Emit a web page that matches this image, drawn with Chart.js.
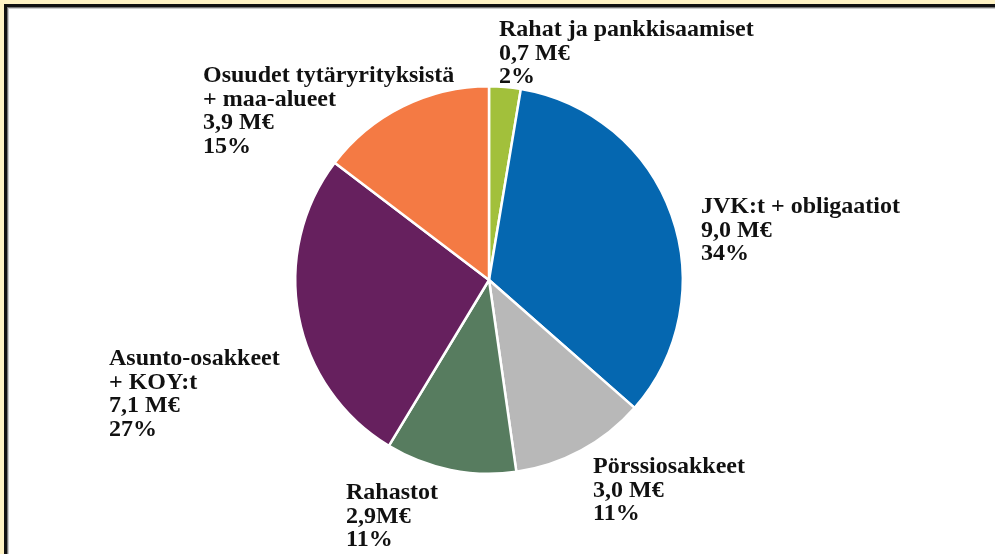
<!DOCTYPE html>
<html lang="fi">
<head>
  <meta charset="UTF-8" />
  <title>Sijoitusvarallisuus</title>
  <script src="https://cdn.jsdelivr.net/npm/chart.js"></script>
  <style>
    html, body { margin: 0; padding: 0; background: #fff3c4; width: 995px; height: 554px; overflow: hidden; position: relative; }
    #frame {
      position: absolute; left: 4px; top: 4px; width: 1100px; height: 700px;
      background: #fff;
      border-top: 3px solid #111; border-left: 3px solid #111;
      box-shadow: inset 1px 1px 0 #777, inset 2px 2px 0 #ccc;
    }
    #wrap { position: absolute; left: 0; top: 0; width: 995px; height: 554px; }
  </style>
</head>
<body>
  <div id="frame"></div>
  <div id="wrap"><canvas id="pie"></canvas></div>

  <script>
    // slices clockwise from 12 o'clock
    const names = [
      ['Rahat ja pankkisaamiset'],
      ['JVK:t + obligaatiot'],
      ['Pörssiosakkeet'],
      ['Rahastot'],
      ['Asunto-osakkeet', '+ KOY:t'],
      ['Osuudet tytäryrityksistä', '+ maa-alueet']
    ];
    const values = [0.7, 9.0, 3.0, 2.9, 7.1, 3.9];          // M€
    const amountLabels = ['0,7 M€', '9,0 M€', '3,0 M€', '2,9M€', '7,1 M€', '3,9 M€'];
    const percentLabels = ['2%', '34%', '11%', '11%', '27%', '15%'];
    const colors = ['#a2c03b', '#0567b0', '#b8b8b8', '#577c5f', '#66205e', '#f47a44'];

    // where each text block starts (left x, first baseline y)
    const labelPos = [[499, 36], [701, 213], [593, 473], [346, 499], [109, 365], [203, 82]];
    const lineHeight = 23.7;

    const textLabels = {
      id: 'textLabels',
      afterDraw(chart) {
        const ctx = chart.ctx;
        ctx.save();
        ctx.fillStyle = '#111';
        ctx.font = 'bold 24px "Liberation Serif", "Times New Roman", serif';
        ctx.textAlign = 'left';
        ctx.textBaseline = 'alphabetic';
        names.forEach((n, i) => {
          const lines = n.concat([amountLabels[i], percentLabels[i]]);
          lines.forEach((t, j) => {
            ctx.fillText(t, labelPos[i][0], labelPos[i][1] + j * lineHeight);
          });
        });
        ctx.restore();
      }
    };

    new Chart(document.getElementById('pie'), {
      type: 'pie',
      data: {
        labels: names.map(n => n.join(' ')),
        datasets: [{
          data: values,
          backgroundColor: colors,
          borderColor: '#ffffff',
          borderWidth: 2.5
        }]
      },
      options: {
        responsive: true,
        maintainAspectRatio: false,
        animation: false,
        layout: { padding: { left: 294, right: 311, top: 85, bottom: 79 } },
        plugins: {
          legend: { display: false },
          tooltip: { enabled: false }
        }
      },
      plugins: [textLabels]
    });
  </script>
</body>
</html>
